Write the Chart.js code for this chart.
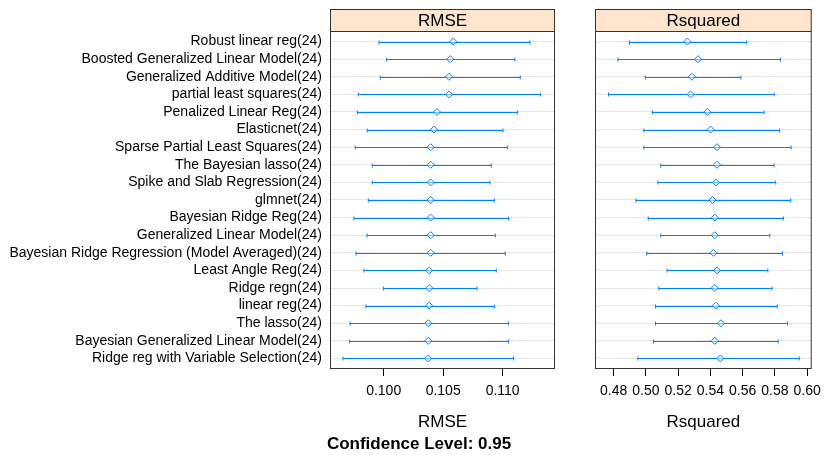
<!DOCTYPE html>
<html>
<head>
<meta charset="utf-8">
<script src="https://cdn.jsdelivr.net/npm/chart.js@4"></script>
<style>
  body { margin: 0; background: #fff; }
  #wrap { position: relative; width: 828px; height: 455px; }
  canvas { position: absolute; left: 0; top: 0; }
</style>
</head>
<body>
<div id="wrap">
  <canvas id="rmseChart" width="828" height="455"></canvas>
  <canvas id="rsqChart" width="828" height="455"></canvas>
</div>
<script>
// Models, top to bottom
const models = [
  'Robust linear reg(24)',
  'Boosted Generalized Linear Model(24)',
  'Generalized Additive Model(24)',
  'partial least squares(24)',
  'Penalized Linear Reg(24)',
  'Elasticnet(24)',
  'Sparse Partial Least Squares(24)',
  'The Bayesian lasso(24)',
  'Spike and Slab Regression(24)',
  'glmnet(24)',
  'Bayesian Ridge Reg(24)',
  'Generalized Linear Model(24)',
  'Bayesian Ridge Regression (Model Averaged)(24)',
  'Least Angle Reg(24)',
  'Ridge regn(24)',
  'linear reg(24)',
  'The lasso(24)',
  'Bayesian Generalized Linear Model(24)',
  'Ridge reg with Variable Selection(24)'
];

const rmseMid = [0.10585, 0.10560, 0.10549, 0.10549, 0.10448, 0.10423, 0.10395, 0.10395, 0.10395, 0.10395,
                 0.10395, 0.10395, 0.10395, 0.10383, 0.10383, 0.10383, 0.10375, 0.10375, 0.10375];
const rmseLo  = [0.09961, 0.10025, 0.09971, 0.09787, 0.09778, 0.09862, 0.09761, 0.09904, 0.09904, 0.09871,
                 0.09750, 0.09860, 0.09767, 0.09834, 0.09997, 0.09851, 0.09717, 0.09714, 0.09658];
const rmseHi  = [0.11229, 0.11103, 0.11148, 0.11319, 0.11123, 0.11003, 0.11042, 0.10904, 0.10893, 0.10930,
                 0.11050, 0.10938, 0.11022, 0.10946, 0.10784, 0.10930, 0.11050, 0.11050, 0.11092];

const rsqMid = [0.5257, 0.5323, 0.5285, 0.5277, 0.5381, 0.5401, 0.5441, 0.5441, 0.5435, 0.5413,
                0.5427, 0.5427, 0.5419, 0.5441, 0.5427, 0.5433, 0.5465, 0.5427, 0.5461];
const rsqLo  = [0.4898, 0.4826, 0.4996, 0.4768, 0.5040, 0.4987, 0.4987, 0.5092, 0.5074, 0.4938,
                0.5014, 0.5092, 0.5005, 0.5131, 0.5080, 0.5059, 0.5059, 0.5047, 0.4950];
const rsqHi  = [0.5625, 0.5834, 0.5589, 0.5796, 0.5732, 0.5828, 0.5900, 0.5794, 0.5802, 0.5898,
                0.5852, 0.5768, 0.5846, 0.5756, 0.5782, 0.5814, 0.5878, 0.5820, 0.5951];

const rmseTicks = [0.100, 0.105, 0.110];
const rsqTicks = [0.48, 0.50, 0.52, 0.54, 0.56, 0.58, 0.60];

const BLUE = '#0080ff';
const FONT = 'Arial, "Liberation Sans", sans-serif';

// Draws strip, frame, interval whiskers and axis title for a panel
const panelPlugin = {
  id: 'panel',
  beforeDatasetsDraw(chart, args, opts) {
    const ctx = chart.ctx;
    const xs = chart.scales.x, ys = chart.scales.y;
    ctx.save();
    ctx.strokeStyle = BLUE;
    ctx.lineWidth = 1;
    opts.lo.forEach((lo, i) => {
      const y = Math.round(ys.getPixelForValue(i + 1)) + 0.5;
      const x1 = xs.getPixelForValue(lo);
      const x2 = xs.getPixelForValue(opts.hi[i]);
      ctx.beginPath();
      ctx.moveTo(x1, y); ctx.lineTo(x2, y);
      ctx.moveTo(x1, y - 2); ctx.lineTo(x1, y + 2);
      ctx.moveTo(x2, y - 2); ctx.lineTo(x2, y + 2);
      ctx.stroke();
    });
    ctx.restore();
  },
  afterDraw(chart, args, opts) {
    const ctx = chart.ctx;
    const a = chart.chartArea;
    ctx.save();
    // strip
    ctx.fillStyle = '#ffe5cc';
    ctx.fillRect(a.left, 9, a.right - a.left, a.top - 9);
    ctx.strokeStyle = '#333';
    ctx.lineWidth = 1;
    ctx.strokeRect(a.left + 0.5, 9.5, a.right - a.left - 1, a.top - 9);
    ctx.strokeRect(a.left + 0.5, a.top + 0.5, a.right - a.left - 1, a.bottom - a.top - 1);
    ctx.fillStyle = '#000';
    ctx.font = '17px ' + FONT;
    ctx.textAlign = 'center';
    ctx.textBaseline = 'middle';
    const cx = (a.left + a.right) / 2;
    ctx.fillText(opts.title, cx, 21);
    // axis title
    ctx.fillText(opts.title, cx, a.bottom + 53);
    if (opts.footer) {
      ctx.font = 'bold 17px ' + FONT;
      ctx.fillText(opts.footer, 419, 444);
    }
    ctx.restore();
  }
};

function makePanel(id, mid, lo, hi, ticks, xmin, xmax, digits, title, pad, showLabels, footer) {
  const ctx = document.getElementById(id).getContext('2d');
  return new Chart(ctx, {
    type: 'scatter',
    data: {
      datasets: [{
        data: models.map((m, i) => ({ x: mid[i], y: i + 1 })),
        pointStyle: 'rectRot',
        pointRadius: 3.5,
        borderColor: BLUE,
        borderWidth: 1,
        backgroundColor: 'rgba(255,255,255,0.5)'
      }]
    },
    options: {
      responsive: false,
      animation: false,
      layout: { padding: pad },
      plugins: {
        legend: { display: false },
        tooltip: { enabled: false },
        panel: { lo: lo, hi: hi, title: title, footer: footer }
      },
      scales: {
        x: {
          type: 'linear',
          min: xmin,
          max: xmax,
          afterBuildTicks: s => { s.ticks = ticks.map(v => ({ value: v })); },
          afterFit: s => { s.height = 86; },
          border: { display: false },
          grid: { drawOnChartArea: false, tickLength: 7, color: '#000' },
          ticks: {
            color: '#000',
            font: { family: FONT, size: 14 },
            padding: 7,
            maxRotation: 0,
            autoSkip: false,
            callback: v => Number(v).toFixed(digits)
          }
        },
        y: {
          type: 'linear',
          min: 0.4,
          max: 19.6,
          reverse: true,
          afterBuildTicks: s => { s.ticks = models.map((m, i) => ({ value: i + 1 })); },
          afterFit: s => { s.width = showLabels ? 330 : 0; },
          border: { display: false },
          grid: { color: '#e6e6e6', drawTicks: false },
          ticks: {
            display: showLabels,
            color: '#000',
            font: { family: FONT, size: 14 },
            padding: 8,
            autoSkip: false,
            callback: (v, i) => models[i]
          }
        }
      }
    },
    plugins: [panelPlugin]
  });
}

makePanel('rmseChart', rmseMid, rmseLo, rmseHi, rmseTicks, 0.09549, 0.11440, 3, 'RMSE',
  { left: 0, right: 273, top: 31, bottom: 0 }, true, 'Confidence Level: 0.95');
makePanel('rsqChart', rsqMid, rsqLo, rsqHi, rsqTicks, 0.4684, 0.6028, 2, 'Rsquared',
  { left: 595, right: 9, top: 31, bottom: 0 }, false, null);
</script>
</body>
</html>
